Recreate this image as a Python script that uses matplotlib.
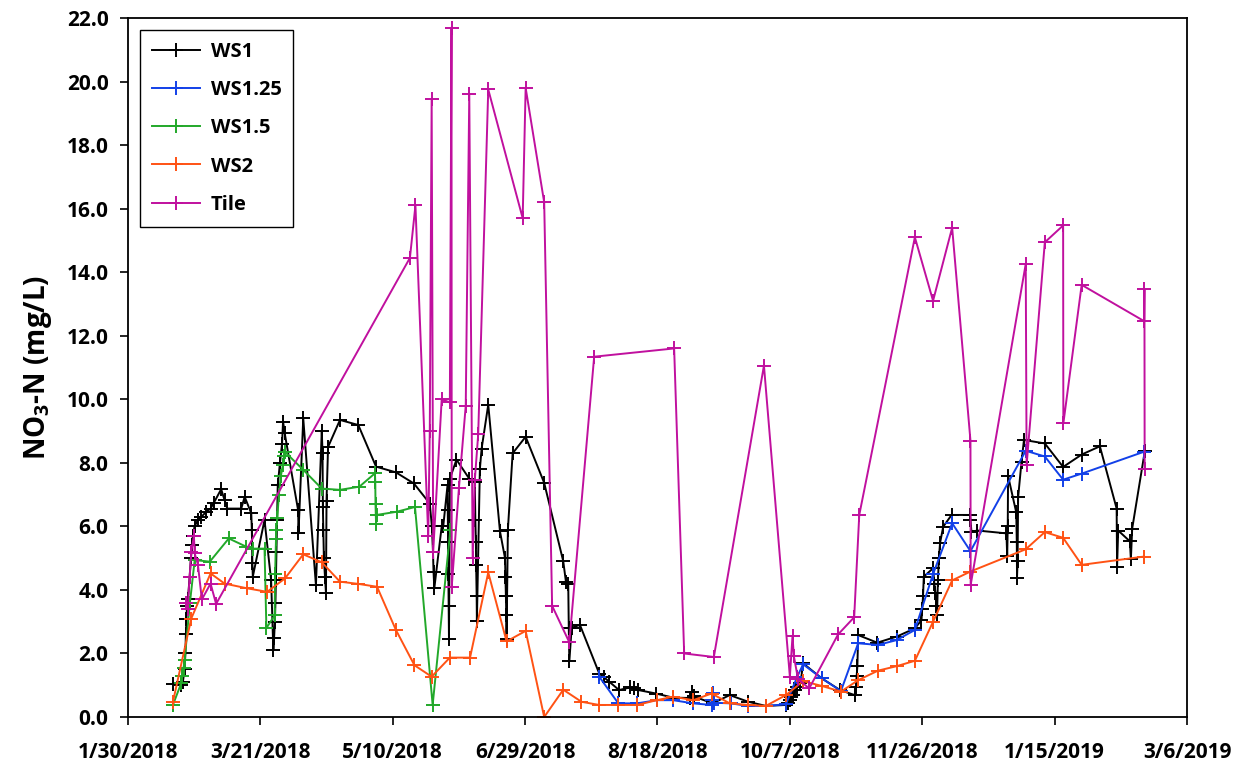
import numpy as np
import pandas as pd
import matplotlib
matplotlib.use("Agg")
import matplotlib.pyplot as plt
import matplotlib.dates as mdates
from matplotlib.ticker import FuncFormatter, FormatStrFormatter

plt.rcParams['font.family'] = ['Open Sans', 'DejaVu Sans']
plt.rcParams['font.weight'] = 'bold'
plt.rcParams['mathtext.fontset'] = 'custom'
plt.rcParams['mathtext.rm'] = 'Open Sans:bold'
plt.rcParams['mathtext.bf'] = 'Open Sans:bold'

# ---- data ----
ws1_dates = [
    "2018-02-16 00:00", "2018-02-19 00:00", "2018-02-19 18:00", "2018-02-20 09:00", "2018-02-20 17:00",
    "2018-02-20 21:00", "2018-02-21 02:00", "2018-02-21 07:00", "2018-02-21 16:00", "2018-02-22 07:00",
    "2018-02-22 19:00", "2018-02-23 04:00", "2018-02-23 12:00", "2018-02-24 04:00", "2018-02-25 10:00",
    "2018-02-26 17:00", "2018-02-28 14:00", "2018-03-02 05:00", "2018-03-03 12:00", "2018-03-06 05:00",
    "2018-03-07 12:00", "2018-03-08 12:00", "2018-03-13 19:00", "2018-03-15 02:00", "2018-03-17 14:00",
    "2018-03-17 19:00", "2018-03-18 00:00", "2018-03-18 04:00", "2018-03-22 14:00", "2018-03-25 02:00",
    "2018-03-25 22:00", "2018-03-26 05:00", "2018-03-26 12:00", "2018-03-26 17:00", "2018-03-26 21:00",
    "2018-03-27 02:00", "2018-03-27 07:00", "2018-03-27 14:00", "2018-03-28 10:00", "2018-03-29 05:00",
    "2018-03-29 14:00", "2018-03-30 05:00", "2018-04-04 07:00", "2018-04-04 10:00", "2018-04-06 05:00",
    "2018-04-11 00:00", "2018-04-13 05:00", "2018-04-13 12:00", "2018-04-13 15:00", "2018-04-13 19:00",
    "2018-04-14 00:00", "2018-04-14 10:00", "2018-04-14 19:00", "2018-04-15 00:00", "2018-04-15 14:00",
    "2018-04-20 02:00", "2018-04-27 00:00", "2018-05-03 17:00", "2018-05-11 05:00", "2018-05-18 00:00",
    "2018-05-24 00:00", "2018-05-24 19:00", "2018-05-25 05:00", "2018-05-25 10:00", "2018-05-25 17:00",
    "2018-05-28 12:00", "2018-05-29 02:00", "2018-05-30 17:00", "2018-05-30 19:00", "2018-05-30 22:00",
    "2018-05-31 00:00", "2018-05-31 03:00", "2018-05-31 06:00", "2018-05-31 14:00", "2018-06-03 02:00",
    "2018-06-07 22:00", "2018-06-10 00:00", "2018-06-10 05:00", "2018-06-10 10:00", "2018-06-10 12:00",
    "2018-06-10 17:00", "2018-06-10 19:00", "2018-06-11 22:00", "2018-06-12 14:00", "2018-06-15 02:00",
    "2018-06-19 12:00", "2018-06-21 10:00", "2018-06-21 14:00", "2018-06-21 17:00", "2018-06-21 22:00",
    "2018-06-22 00:00", "2018-06-22 12:00", "2018-06-24 07:00", "2018-06-29 05:00", "2018-07-06 05:00",
    "2018-07-13 10:00", "2018-07-14 10:00", "2018-07-15 07:00", "2018-07-15 12:00", "2018-07-15 17:00",
    "2018-07-16 14:00", "2018-07-19 17:00", "2018-07-27 00:00", "2018-07-28 19:00", "2018-07-30 19:00",
    "2018-08-03 12:00", "2018-08-07 14:00", "2018-08-09 02:00", "2018-08-10 17:00", "2018-08-17 10:00",
    "2018-08-23 22:00", "2018-08-30 05:00", "2018-08-31 05:00", "2018-08-31 17:00", "2018-09-07 19:00",
    "2018-09-14 07:00", "2018-09-21 07:00", "2018-09-27 22:00", "2018-10-05 12:00", "2018-10-06 05:00",
    "2018-10-07 00:00", "2018-10-07 14:00", "2018-10-08 05:00", "2018-10-08 22:00", "2018-10-09 17:00",
    "2018-10-11 00:00", "2018-10-12 00:00", "2018-10-19 00:00", "2018-10-25 22:00", "2018-10-31 12:00",
    "2018-10-31 22:00", "2018-11-01 05:00", "2018-11-01 12:00", "2018-11-01 19:00", "2018-11-09 00:00",
    "2018-11-16 07:00", "2018-11-23 05:00", "2018-11-25 17:00", "2018-11-26 00:00", "2018-11-26 07:00",
    "2018-11-26 14:00", "2018-11-30 02:00", "2018-11-30 14:00", "2018-12-01 00:00", "2018-12-01 07:00",
    "2018-12-01 14:00", "2018-12-01 22:00", "2018-12-02 07:00", "2018-12-02 17:00", "2018-12-03 22:00",
    "2018-12-07 02:00", "2018-12-14 00:00", "2018-12-14 05:00", "2018-12-14 14:00", "2018-12-16 19:00",
    "2018-12-27 19:00", "2018-12-28 02:00", "2018-12-28 07:00", "2018-12-28 10:00", "2018-12-31 12:00",
    "2018-12-31 17:00", "2018-12-31 19:00", "2019-01-01 00:00", "2019-01-01 05:00", "2019-01-02 12:00",
    "2019-01-03 10:00", "2019-01-11 07:00", "2019-01-18 05:00", "2019-01-25 05:00", "2019-02-01 02:00",
    "2019-02-07 10:00", "2019-02-07 14:00", "2019-02-08 00:00", "2019-02-12 10:00", "2019-02-12 19:00",
    "2019-02-13 07:00", "2019-02-18 02:00",
]
ws1_values = [
    1.05, 1.0, 1.1, 1.5, 2.0, 2.6, 3.1, 3.5, 3.7, 4.4,
    5.0, 5.4, 5.7, 6.0, 6.2, 6.3, 6.46, 6.56, 6.75, 7.17,
    6.83, 6.56, 6.56, 6.93, 6.41, 5.89, 4.84, 4.42, 6.2, 4.3,
    2.1, 2.5, 3.0, 3.6, 4.3, 5.2, 6.2, 7.3, 8.0, 8.6,
    9.3, 8.93, 6.5, 5.78, 9.4, 4.15, 9.0, 8.3, 6.6, 5.9,
    5.0, 4.4, 3.9, 6.8, 8.5, 9.35, 9.19, 7.88, 7.7, 7.35,
    6.72, 6.0, 5.2, 4.57, 4.05, 6.0, 6.0, 7.3, 6.5, 5.5,
    4.5, 3.5, 2.45, 7.5, 8.1, 7.5, 7.4, 6.2, 5.5, 4.8,
    3.8, 3.03, 7.8, 8.45, 9.83, 5.85, 5.0, 4.4, 3.8, 3.2,
    2.45, 5.9, 8.3, 8.82, 7.37, 4.9, 4.26, 4.2, 2.8, 1.75,
    2.81, 2.9, 1.37, 1.25, 1.11, 0.85, 0.93, 0.9, 0.85, 0.74,
    0.61, 0.6, 0.78, 0.65, 0.43, 0.69, 0.48, 0.35, 0.38, 0.45,
    0.55, 0.62, 0.7, 0.85, 0.95, 1.06, 1.69, 1.22, 0.85, 0.69,
    0.95, 1.3, 1.6, 2.58, 2.34, 2.53, 2.79, 3.05, 3.4, 3.8,
    4.42, 4.68, 4.2, 3.89, 3.5, 3.2, 4.3, 5.0, 5.47, 5.99,
    6.36, 6.36, 6.2, 5.83, 5.87, 5.78, 5.07, 6.0, 7.59, 6.44,
    5.5, 4.39, 4.9, 6.91, 8.04, 8.72, 8.61, 7.87, 8.26, 8.52,
    6.56, 4.73, 5.87, 5.53, 4.96, 5.93, 8.38,
]

ws125_dates = [
    "2018-07-27 00:00", "2018-08-03 05:00", "2018-08-10 07:00", "2018-08-17 17:00", "2018-08-23 22:00",
    "2018-08-31 12:00", "2018-09-07 10:00", "2018-09-07 17:00", "2018-09-08 00:00", "2018-09-08 07:00",
    "2018-09-14 14:00", "2018-09-21 07:00", "2018-09-27 22:00", "2018-10-05 12:00", "2018-10-09 19:00",
    "2018-10-12 00:00", "2018-10-19 00:00", "2018-10-26 07:00", "2018-11-01 19:00", "2018-11-09 07:00",
    "2018-11-16 07:00", "2018-11-23 05:00", "2018-11-30 02:00", "2018-12-07 07:00", "2018-12-14 05:00",
    "2019-01-04 02:00", "2019-01-11 07:00", "2019-01-18 05:00", "2019-01-25 05:00", "2019-02-17 19:00",
]
ws125_values = [
    1.27, 0.43, 0.43, 0.53, 0.53, 0.43, 0.38, 0.55, 0.77, 0.45,
    0.43, 0.35, 0.35, 0.4, 1.27, 1.66, 1.22, 0.82, 2.32, 2.27,
    2.42, 2.74, 4.5, 6.1, 5.22, 8.38, 8.2, 7.47, 7.66, 8.35,
]

ws15_dates = [
    "2018-02-16 00:00", "2018-02-19 02:00", "2018-02-19 14:00", "2018-02-20 00:00", "2018-02-20 10:00",
    "2018-02-22 10:00", "2018-02-24 05:00", "2018-03-01 22:00", "2018-03-09 02:00", "2018-03-15 17:00",
    "2018-03-18 05:00", "2018-03-22 14:00", "2018-03-23 07:00", "2018-03-26 10:00", "2018-03-26 14:00",
    "2018-03-26 22:00", "2018-03-27 02:00", "2018-03-27 10:00", "2018-03-28 00:00", "2018-03-28 19:00",
    "2018-03-29 12:00", "2018-03-29 22:00", "2018-03-30 05:00", "2018-04-06 05:00", "2018-04-13 05:00",
    "2018-04-20 02:00", "2018-04-27 10:00", "2018-05-03 07:00", "2018-05-03 10:00", "2018-05-03 12:00",
    "2018-05-03 17:00", "2018-05-03 22:00", "2018-05-11 12:00", "2018-05-18 10:00", "2018-05-25 02:00",
    "2018-05-31 19:00",
]
ws15_values = [
    0.38, 1.06, 1.3, 1.55, 1.79, 3.6, 4.94, 4.89, 5.62, 5.36,
    5.3, 5.3, 2.8, 3.2, 4.5, 5.6, 5.9, 6.25, 7.0, 7.6,
    7.93, 8.2, 8.35, 7.78, 7.19, 7.15, 7.25, 7.67, 7.4, 6.7,
    6.09, 6.36, 6.46, 6.61, 0.38, 5.9,
]

ws2_dates = [
    "2018-02-16 00:00", "2018-02-22 22:00", "2018-03-02 05:00", "2018-03-07 12:00", "2018-03-16 02:00",
    "2018-03-23 14:00", "2018-03-30 07:00", "2018-04-06 05:00", "2018-04-13 05:00", "2018-04-20 02:00",
    "2018-04-27 00:00", "2018-05-04 02:00", "2018-05-11 05:00", "2018-05-18 05:00", "2018-05-24 17:00",
    "2018-05-31 14:00", "2018-06-08 05:00", "2018-06-15 02:00", "2018-06-22 00:00", "2018-06-29 05:00",
    "2018-07-06 05:00", "2018-07-13 10:00", "2018-07-20 07:00", "2018-07-27 00:00", "2018-08-03 05:00",
    "2018-08-10 07:00", "2018-08-17 17:00", "2018-08-23 22:00", "2018-08-31 12:00", "2018-09-07 10:00",
    "2018-09-14 07:00", "2018-09-21 07:00", "2018-09-27 22:00", "2018-10-05 12:00", "2018-10-12 00:00",
    "2018-10-19 00:00", "2018-10-26 07:00", "2018-11-01 19:00", "2018-11-09 07:00", "2018-11-16 07:00",
    "2018-11-23 05:00", "2018-11-30 02:00", "2018-12-07 07:00", "2018-12-14 05:00", "2019-01-04 02:00",
    "2019-01-11 07:00", "2019-01-18 05:00", "2019-01-25 05:00", "2019-02-17 19:00",
]
ws2_values = [
    0.48, 3.1, 4.52, 4.2, 4.05, 3.94, 4.36, 5.12, 4.87, 4.26,
    4.19, 4.1, 2.74, 1.63, 1.27, 1.87, 1.87, 4.55, 2.38, 2.71,
    0.0, 0.86, 0.48, 0.38, 0.38, 0.38, 0.53, 0.64, 0.53, 0.74,
    0.43, 0.38, 0.35, 0.69, 1.13, 0.98, 0.8, 1.16, 1.46, 1.6,
    1.77, 3.0, 4.3, 4.58, 5.28, 5.82, 5.64, 4.79, 5.05,
]

tile_dates = [
    "2018-02-21 02:00", "2018-02-21 12:00", "2018-02-22 07:00", "2018-02-22 22:00", "2018-02-23 22:00",
    "2018-02-24 05:00", "2018-02-25 10:00", "2018-02-26 22:00", "2018-03-02 05:00", "2018-03-04 07:00",
    "2018-05-16 12:00", "2018-05-18 14:00", "2018-05-23 10:00", "2018-05-24 00:00", "2018-05-24 17:00",
    "2018-05-25 07:00", "2018-05-28 12:00", "2018-05-31 14:00", "2018-06-01 05:00", "2018-06-01 07:00",
    "2018-06-04 00:00", "2018-06-06 14:00", "2018-06-07 22:00", "2018-06-09 05:00", "2018-06-10 00:00",
    "2018-06-11 07:00", "2018-06-15 02:00", "2018-06-28 02:00", "2018-06-29 05:00", "2018-07-06 05:00",
    "2018-07-09 05:00", "2018-07-15 17:00", "2018-07-25 02:00", "2018-08-24 07:00", "2018-08-28 02:00",
    "2018-09-08 07:00", "2018-09-27 05:00", "2018-10-07 00:00", "2018-10-08 00:00", "2018-10-08 12:00",
    "2018-10-10 02:00", "2018-10-14 07:00", "2018-10-25 05:00", "2018-10-31 07:00", "2018-11-02 05:00",
    "2018-11-23 05:00", "2018-11-30 02:00", "2018-12-07 07:00", "2018-12-14 05:00", "2018-12-14 07:00",
    "2019-01-04 02:00", "2019-01-04 10:00", "2019-01-11 07:00", "2019-01-18 05:00", "2019-01-18 07:00",
    "2019-01-25 05:00", "2019-02-17 19:00", "2019-02-17 22:00", "2019-02-18 00:00",
]
tile_values = [
    3.6, 3.4, 4.4, 5.2, 5.7, 5.15, 4.8, 3.7, 4.2, 3.56,
    14.45, 16.1, 5.7, 9.0, 19.45, 5.2, 10.0, 9.9, 21.7, 4.1,
    7.2, 9.8, 19.6, 5.0, 7.45, 8.9, 19.75, 15.7, 19.8, 16.2,
    3.5, 2.35, 11.34, 11.6, 2.0, 1.89, 11.06, 1.27, 2.55, 1.92,
    1.2, 0.9, 2.6, 3.14, 6.36, 15.1, 13.1, 15.4, 8.7, 4.16,
    14.26, 7.93, 14.94, 15.47, 9.24, 13.6, 12.46, 13.46, 7.81,
]

series = [
    ("WS1", ws1_dates, ws1_values, "black"),
    ("WS1.25", ws125_dates, ws125_values, "#1240E8"),
    ("WS1.5", ws15_dates, ws15_values, "#22A82A"),
    ("WS2", ws2_dates, ws2_values, "#FF5214"),
    ("Tile", tile_dates, tile_values, "#C0109E"),
]

fig = plt.figure(figsize=(12.47, 7.65), dpi=100)
ax = fig.add_axes([0.1026, 0.0627, 0.8493, 0.9138])

for name, d, v, c in series:
    ax.plot(pd.to_datetime(d), v, color=c, lw=1.4, marker='+', ms=10, mew=1.4, label=name)

ax.set_xlim(pd.Timestamp("2018-01-30"), pd.Timestamp("2019-03-06"))
ax.set_ylim(0, 22)
ax.set_xticks(pd.date_range("2018-01-30", "2019-03-06", freq="50D"))
ax.xaxis.set_major_formatter(FuncFormatter(
    lambda x, pos: "{0.month}/{0.day}/{0.year}".format(mdates.num2date(x))))
ax.set_yticks(np.arange(0, 23, 2))
ax.yaxis.set_major_formatter(FormatStrFormatter('%.1f'))

ax.tick_params(axis='both', direction='out', length=6, width=1.2, labelsize=15)
ax.tick_params(axis='x', pad=12)
ax.tick_params(axis='y', pad=8)
for s in ax.spines.values():
    s.set_linewidth(1.3)

ax.set_ylabel(r'NO$_\mathbf{3}$-N (mg/L)', fontsize=20, fontweight='bold', labelpad=9)

leg = ax.legend(loc='upper left', fontsize=14.5, numpoints=1, handlelength=2.4,
                handletextpad=0.5, labelspacing=0.9, borderaxespad=0.6, fancybox=False,
                framealpha=1, edgecolor='black', borderpad=0.6)
leg.get_frame().set_linewidth(1.0)
for h in leg.get_lines():
    h.set_linewidth(1.4)

fig.savefig("out.png", dpi=100)
